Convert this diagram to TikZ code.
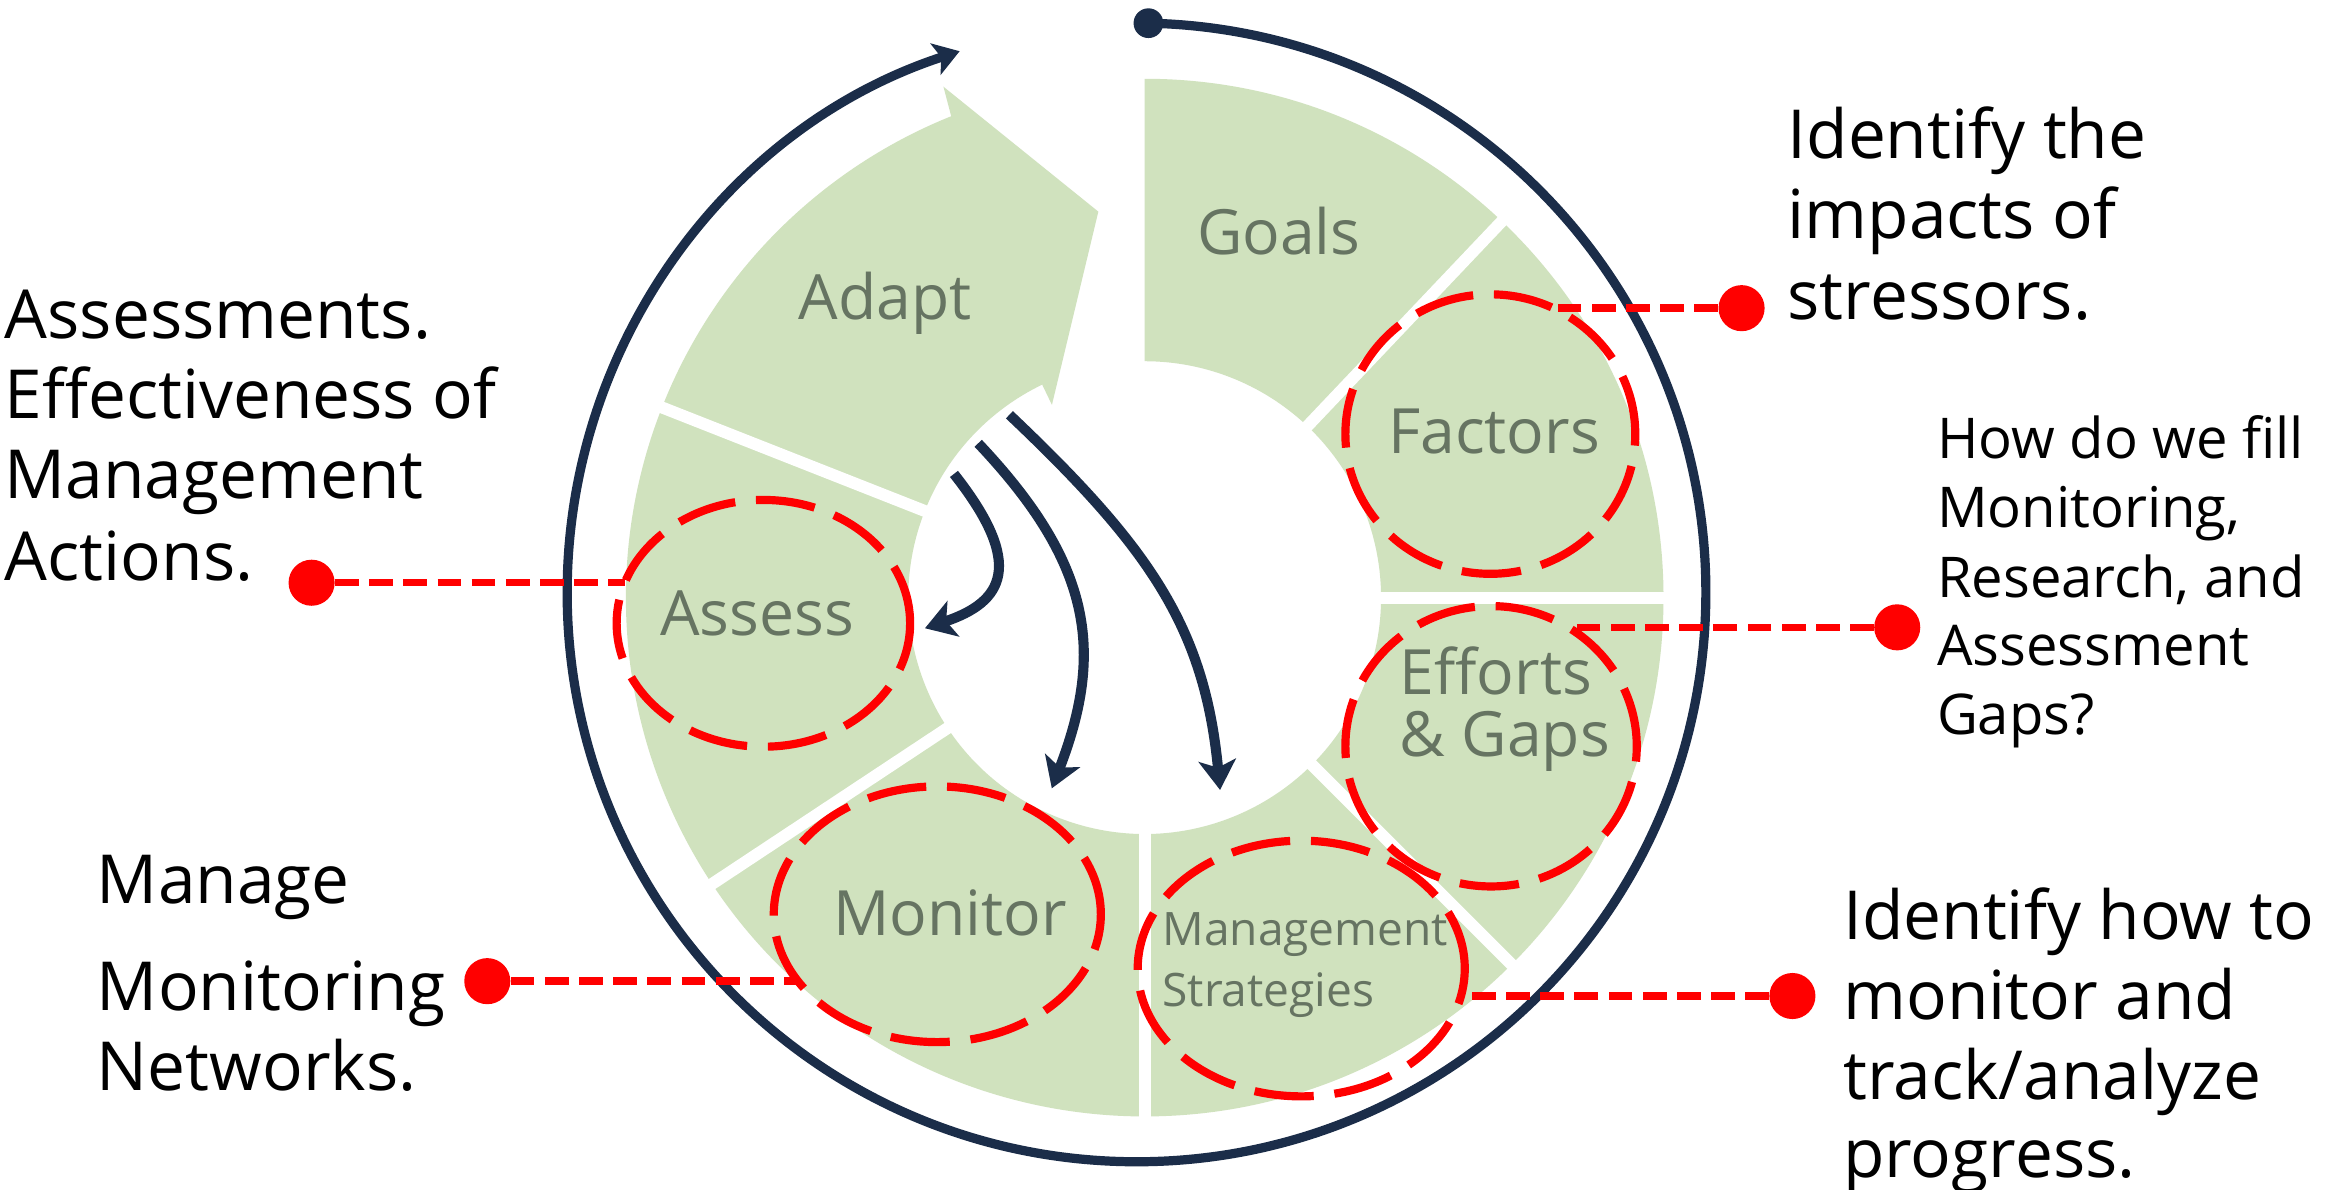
\documentclass[tikz,border=0pt]{standalone}
\usepackage{fontspec}
\setmainfont{Open Sans}
\usetikzlibrary{arrows.meta,shapes.geometric}
\definecolor{gfill}{RGB}{208,226,190}
\definecolor{navy}{RGB}{27,45,73}
\definecolor{labelgray}{RGB}{102,116,98}
\definecolor{hired}{RGB}{255,0,0}
\begin{document}
\begin{tikzpicture}[x=1pt,y=1pt,
  seglabel/.style={text=labelgray, anchor=base west, inner sep=0pt, font=\fontsize{42}{48}\selectfont},
  smalllabel/.style={text=labelgray, anchor=base west, inner sep=0pt, font=\fontsize{31}{36}\selectfont},
  note/.style={anchor=base west, inner sep=0pt, font=\fontsize{45.5}{54}\selectfont},
  notesmall/.style={anchor=base west, inner sep=0pt, font=\fontsize{37.8}{46}\selectfont},
  focus/.style={ellipse, draw=hired, line width=5.5pt, dash pattern=on 40pt off 14pt, inner sep=0pt, outer sep=0pt},
  reddot/.style={circle, fill=hired, minimum size=31pt, inner sep=0pt},
  conn/.style={draw=hired, line width=5pt, dash pattern=on 16pt off 7pt},
  iarrow/.style={draw=navy, line width=6.8pt, -{Stealth[length=20pt,width=25pt,inset=5pt]}},
  sep/.style={draw=white, line width=8pt},
]
\useasboundingbox (0,0) rectangle (1568,800);
\fill[white] (0,0) rectangle (1568,800);

% centres
\coordinate (G) at (770,398);
\coordinate (N) at (764.5,401.5);

% green segments (Goals ... Assess)
\fill[gfill] ([shift={(90:349pt)}]G) arc[start angle=90, end angle=-201.5, radius=349pt]
  -- ([shift={(-201.5:159pt)}]G) arc[start angle=-201.5, end angle=90, radius=159pt] -- cycle;
% Adapt arrow segment
\fill[gfill] ([shift={(158.5:349pt)}]G) arc[start angle=158.5, end angle=111.9, radius=349pt]
  -- ([shift={(111.5:369.4pt)}]G) -- ([shift={(96.85:261.5pt)}]G)
  -- ([shift={(115.7:143.9pt)}]G) -- ([shift={(115.7:159pt)}]G)
  arc[start angle=115.7, end angle=158.5, radius=159pt] -- cycle;
% white separators
\foreach \a in {46.5,0,-45,-90,-146.5,158.5}
  \draw[sep] ([shift={(\a:150pt)}]G) -- ([shift={(\a:358pt)}]G);

% outer navy cycle arrow
\node[circle, fill=navy, minimum size=20pt, inner sep=0pt] (rs) at ([shift={(88.8:383pt)}]N) {};
\draw[navy, line width=6.2pt, -{Stealth[length=17pt,width=22pt,inset=4pt]}]
  (rs.center) arc[start angle=88.8, end angle=-251.9, radius=383pt];

% inner arrows
\coordinate (a1s) at (641.7,481.2);
\coordinate (a1e) at (622.2,377.4);
\coordinate (a2s) at (658,501.8);
\coordinate (a2e) at (707.5,269.7);
\coordinate (a3s) at (679,521);
\coordinate (a3e) at (820.7,268.6);
\draw[iarrow] (a1s) .. controls (690,420) and (675,395) .. (a1e);
\draw[iarrow] (a2s) .. controls (733.9,421.5) and (743.5,362.7) .. (a2e);
\draw[iarrow] (a3s) .. controls (773.3,431.6) and (810.3,378) .. (a3e);

% segment labels
\node[seglabel] (tadapt) at (537,585) {Adapt};
\node[seglabel] (tgoals) at (805,628.8) {Goals};
\node[seglabel] (tfactors) at (933.6,495) {Factors};
\node[seglabel] (tassess) at (444,372.8) {Assess};
\node[seglabel] (tefforts) at (941.4,332.8) {Efforts};
\node[seglabel] (tgaps) at (941.4,291) {\& Gaps};
\node[seglabel] (tmonitor) at (560.3,170.8) {Monitor};
\node[smalllabel] (tman) at (781.8,164.3) {Management};
\node[smalllabel] (tstrat) at (781.8,123) {Strategies};

% red focus ellipses
\node[focus, minimum width=195pt, minimum height=188pt] (factors) at (1002.5,508) {};
\node[focus, minimum width=197.4pt, minimum height=166pt] (assess) at (513.5,380.7) {};
\node[focus, minimum width=196pt, minimum height=188.6pt] (efforts) at (1003,298) {};
\node[focus, minimum width=220pt, minimum height=172pt] (monitor) at (630.5,185) {};
\node[focus, minimum width=220pt, minimum height=172pt] (manstrat) at (875.3,148.5) {};

% red dots
\node[reddot] (dassess) at (209.6,408) {};
\node[reddot] (dfactors) at (1171.5,592.7) {};
\node[reddot] (defforts) at (1276.2,378) {};
\node[reddot] (dmanstrat) at (1205.7,130) {};
\node[reddot] (dmonitor) at (327.8,140) {};

% border points
\coordinate (eassess) at (assess.163.7);
\coordinate (efactors) at (factors.63.5);
\coordinate (eefforts) at (efforts.57.0);
\coordinate (emanstrat) at (manstrat.-9.8);
\coordinate (emonitor) at (monitor.205.6);

% connectors
\draw[conn] (dassess) -- (dassess -| eassess);
\draw[conn] (dfactors) -- (dfactors -| efactors);
\draw[conn] (defforts) -- (defforts -| eefforts);
\draw[conn] (dmanstrat) -- (dmanstrat -| emanstrat);
\draw[conn] (dmonitor) -- (dmonitor -| emonitor);

% annotations
\node[note] (l1) at (3,572.4) {Assessments.};
\node[note] (l2) at (3,518.6) {Effectiveness of};
\node[note] (l3) at (3,464.8) {Management};
\node[note] (l4) at (3,409.8) {Actions.};

\node[note] (f1) at (1202.3,693.4) {Identify the};
\node[note] (f2) at (1202.3,639.4) {impacts of};
\node[note] (f3) at (1202.3,585.3) {stressors.};

\node[notesmall] (g1) at (1302.8,491.3) {How do we fill};
\node[notesmall] (g2) at (1302.8,445) {Monitoring,};
\node[notesmall] (g3) at (1302.8,398.1) {Research, and};
\node[notesmall] (g4) at (1302.8,352.3) {Assessment};
\node[notesmall] (g5) at (1302.8,306) {Gaps?};

\node[note] (m1) at (1239.7,168.2) {Identify how to};
\node[note] (m2) at (1239.7,114.2) {monitor and};
\node[note] (m3) at (1239.7,60.1) {track/analyze};
\node[note] (m4) at (1239.7,8) {progress.};

\node[note] (n1) at (65,192) {Manage};
\node[note] (n2) at (65,120.2) {Monitoring};
\node[note] (n3) at (65,66.3) {Networks.};
\end{tikzpicture}
\end{document}
